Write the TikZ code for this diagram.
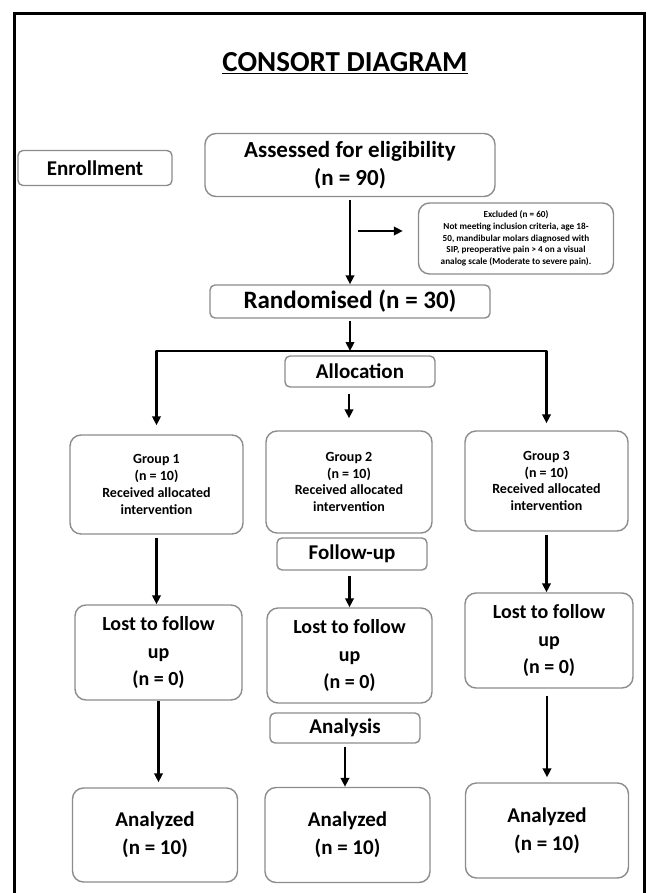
\documentclass[tikz,border=0pt]{standalone}
\usepackage{fontspec}
\setmainfont{Carlito}
\usetikzlibrary{arrows.meta}
\definecolor{boxgray}{RGB}{140,140,140}
\newcommand\myfs[2]{\fontsize{#1}{#2}\selectfont\bfseries}
\tikzset{
  box/.style={draw=boxgray, line width=1.4pt, rounded corners=11pt, fill=white, align=center, inner sep=0pt},
  tagbox/.style={box, rounded corners=5pt},
  arr/.style={line width=2.4pt, line join=round, -{Triangle[length=9pt,width=8.5pt]}},
}
\begin{document}
\begin{tikzpicture}[x=1pt,y=1pt]
\useasboundingbox (0,0) rectangle (650,-893);
% frame
\draw[line width=3pt] (14,-895) -- (14,-14) -- (644,-14) -- (644,-895);
% title
\node (title) at (345,-63) {\myfs{29}{34}\underline{CONSORT DIAGRAM}};
% nodes
\node[tagbox, minimum width=154, minimum height=35, font=\myfs{21}{25}] (enroll) at (95,-168) {Enrollment};
\node[box, minimum width=290, minimum height=63, font=\myfs{23}{28}] (assess) at (350,-165) {Assessed for eligibility\\(n = 90)};
\node[box, minimum width=195, minimum height=71, font=\myfs{9.2}{11.8}] (excl) at (516,-238.5) {Excluded (n = 60)\\Not meeting inclusion criteria, age 18-\\50, mandibular molars diagnosed with\\SIP, preoperative pain > 4 on a visual\\analog scale (Moderate to severe pain).};
\node[tagbox, minimum width=280, minimum height=33, font=\myfs{25}{28}] (rand) at (350,-301.5) {Randomised (n = 30)};
\node[tagbox, minimum width=150, minimum height=31, font=\myfs{21}{25}] (alloc) at (360,-371.5) {Allocation};
\node[box, minimum width=173, minimum height=99, font=\myfs{14}{16.7}] (g1) at (156.5,-484.5) {Group 1\\(n = 10)\\Received allocated\\intervention};
\node[box, minimum width=166, minimum height=102, font=\myfs{14}{16.7}] (g2) at (349,-482) {Group 2\\(n = 10)\\Received allocated\\intervention};
\node[box, minimum width=163, minimum height=100, font=\myfs{14}{16.7}] (g3) at (546.5,-481) {Group 3\\(n = 10)\\Received allocated\\intervention};
\node[tagbox, minimum width=150, minimum height=32, font=\myfs{21}{25}] (follow) at (352,-554) {Follow-up};
\node[box, minimum width=167, minimum height=95, font=\myfs{20}{27.5}] (lost1) at (158.5,-652.5) {Lost to follow\\up\\(n = 0)};
\node[box, minimum width=165, minimum height=95, font=\myfs{20}{27.5}] (lost2) at (349.5,-655.5) {Lost to follow\\up\\(n = 0)};
\node[box, minimum width=168, minimum height=95, font=\myfs{20}{27.5}] (lost3) at (549,-640.5) {Lost to follow\\up\\(n = 0)};
\node[tagbox, minimum width=150, minimum height=30, font=\myfs{21}{25}] (analysis) at (345,-728) {Analysis};
\node[box, minimum width=165, minimum height=94, font=\myfs{21}{28}] (an1) at (155,-835) {Analyzed\\(n = 10)};
\node[box, minimum width=165, minimum height=95, font=\myfs{21}{28}] (an2) at (347.5,-835) {Analyzed\\(n = 10)};
\node[box, minimum width=163, minimum height=95, font=\myfs{21}{28}] (an3) at (547,-830.5) {Analyzed\\(n = 10)};
% connectors
\coordinate (ex0) at (358,-231);
\coordinate (barmid) at (350,-351);
\draw[arr, shorten <=3pt] (assess.south) -- (rand.north);
\draw[arr, shorten >=15pt] (ex0) -- (ex0 -| excl.west);
\draw[arr, shorten <=2pt] (rand.south) -- (barmid);
\draw[arr] (barmid) -| ([yshift=9pt]g1.north);
\draw[arr] (barmid) -| ([yshift=7pt]g3.north);
\draw[arr] ([yshift=-6pt]alloc.south -| g2.north) -- ([yshift=12pt]g2.north);
\draw[arr, shorten <=3pt] (g1.south) -- (g1.south |- lost1.north);
\draw[arr, shorten <=5pt] (follow.south -| lost2.north) -- (lost2.north);
\draw[arr, shorten <=3pt] (g3.south) -- (g3.south |- lost3.north);
\draw[arr, shorten >=5pt] (lost1.south) -- (lost1.south |- an1.north);
\draw[arr, shorten <=3pt] (analysis.south) -- (analysis.south |- an2.north);
\draw[arr, shorten <=7pt, shorten >=5pt] (lost3.south -| an3.north) -- (an3.north);
\end{tikzpicture}
\end{document}
